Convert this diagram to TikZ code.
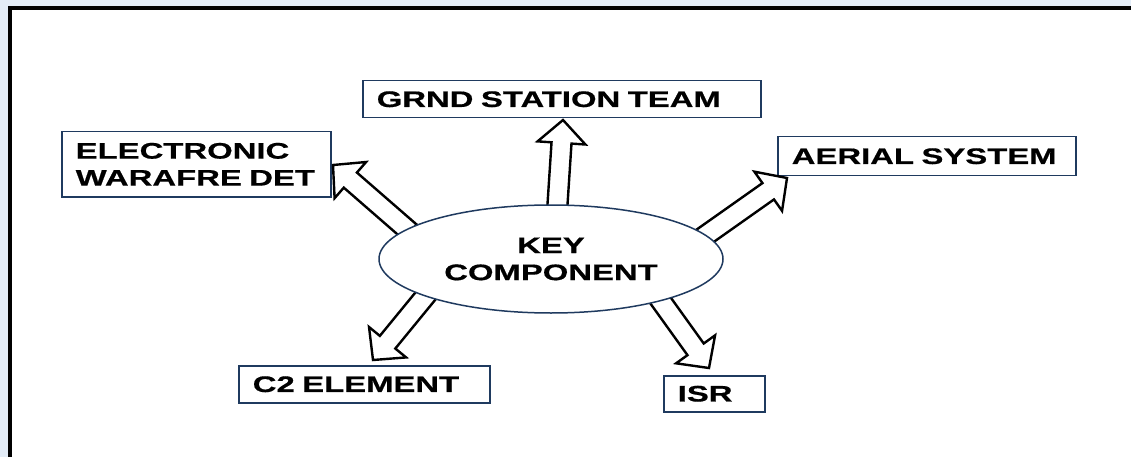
\documentclass[tikz,border=0pt]{standalone}
\usepackage{fontspec}
\setmainfont{Liberation Sans}[FakeStretch=1.46,FakeBold=0.6]
\usetikzlibrary{shapes.geometric,calc}
\definecolor{navy}{HTML}{1F3A5F}
\definecolor{bgblue}{HTML}{E3ECF7}
\tikzset{
  lbl/.style={font=\fontsize{22.5}{27}\selectfont\bfseries},
  box/.style={lbl,draw=navy,line width=1.5pt,fill=white,anchor=north west,align=left,inner xsep=14pt,inner ysep=0pt},
  barrow/.style={draw=black,line width=2.4pt,fill=white,line join=miter},
}
\newcommand\blockarr[2]{%
  \coordinate (neck) at ($(#2)!23pt!(#1)$);
  \draw[barrow] ($(#1)!10pt!90:(#2)$) -- ($(neck)!10pt!-90:(#1)$) -- ($(neck)!24pt!-90:(#1)$) -- (#2)
     -- ($(neck)!24pt!90:(#1)$) -- ($(neck)!10pt!90:(#1)$) -- ($(#1)!10pt!-90:(#2)$) -- cycle;}
\begin{document}
\begin{tikzpicture}[x=1pt,y=-1pt]
\useasboundingbox (0,0) rectangle (1131,457);
\fill[bgblue] (0,0) rectangle (1131,457);
\fill[white] (10,8) rectangle (1131,457);
\draw[black,line width=4pt] (10,457) -- (10,8) -- (1131,8);
% boxes
\node[box,text width=370pt,minimum height=37pt] (grnd) at (362,80) {GRND STATION TEAM};
\node[box,text width=241pt,minimum height=65pt] (ew) at (61,131) {ELECTRONIC\\WARAFRE DET};
\node[box,text width=270pt,minimum height=39pt] (aer) at (777,136) {AERIAL SYSTEM};
\node[box,text width=223pt,minimum height=37pt] (c2) at (238,365) {C2 ELEMENT};
\node[box,text width=73pt,minimum height=36pt] (isr) at (663,375) {ISR};
% arrow end points
\coordinate (tb) at (557,212); \coordinate (tt) at (563,120);
\coordinate (lb) at (410,232); \coordinate (lt) at (333,165);
\coordinate (rb) at (702,238); \coordinate (rt) at (787,178);
\coordinate (llb) at (432,288); \coordinate (llt) at (373,360);
\coordinate (lrb) at (653,290); \coordinate (lrt) at (709,368);
\blockarr{tb}{tt}
\blockarr{lb}{lt}
\blockarr{rb}{rt}
\blockarr{llb}{llt}
\blockarr{lrb}{lrt}
% centre
\node[ellipse,draw=navy,line width=1.5pt,fill=white,minimum width=344pt,minimum height=108pt,inner sep=0pt,lbl,align=center] (key) at (551,259) {KEY\\COMPONENT};
\end{tikzpicture}
\end{document}
